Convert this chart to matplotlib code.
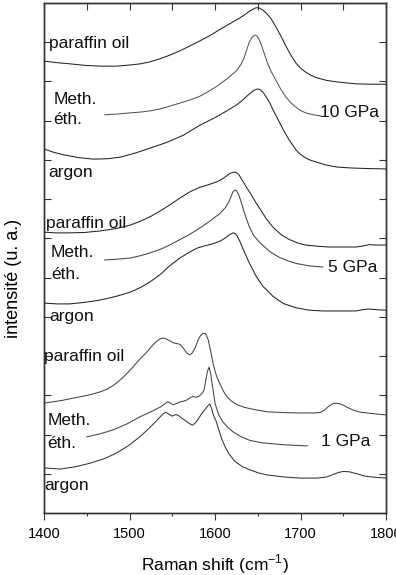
import numpy as np
import matplotlib.pyplot as plt

plt.rcParams['font.family'] = ['Liberation Sans', 'DejaVu Sans']

# Raman spectra, offset per pressure / medium (intensity in arbitrary units)
# 10 GPa
par10_x = [1400, 1415, 1430, 1448, 1466, 1484, 1501, 1513, 1524, 1536, 1547, 1559, 1570,
           1582, 1594, 1606, 1618, 1629, 1636, 1641, 1648, 1652, 1656, 1660, 1665, 1671,
           1677, 1683, 1689, 1695, 1700, 1706, 1712, 1718, 1730, 1742, 1755, 1765, 1780, 1800]
par10_y = [11.52, 11.48, 11.45, 11.41, 11.39, 11.39, 11.42, 11.45, 11.50, 11.58, 11.67, 11.78, 11.90,
           12.03, 12.17, 12.33, 12.48, 12.62, 12.72, 12.80, 12.88, 12.87, 12.82, 12.74, 12.62, 12.40,
           12.16, 11.90, 11.66, 11.46, 11.34, 11.24, 11.16, 11.10, 11.03, 10.99, 10.96, 10.94, 10.93, 10.93]
met10_x = [1471, 1486, 1501, 1513, 1524, 1536, 1547, 1559, 1571, 1582, 1592, 1601, 1613,
           1625, 1630, 1634, 1637, 1640, 1643, 1646, 1648, 1650, 1653, 1656, 1659, 1662,
           1666, 1671, 1677, 1683, 1689, 1695, 1700, 1706, 1715, 1724]
met10_y = [10.15, 10.17, 10.20, 10.22, 10.25, 10.30, 10.37, 10.45, 10.53, 10.62, 10.74, 10.86, 11.05,
           11.27, 11.42, 11.60, 11.80, 12.00, 12.12, 12.18, 12.18, 12.13, 12.00, 11.82, 11.62, 11.44,
           11.24, 11.04, 10.80, 10.60, 10.45, 10.34, 10.26, 10.20, 10.15, 10.12]
arg10_x = [1400, 1412, 1423, 1440, 1458, 1474, 1489, 1506, 1524, 1544, 1563, 1572, 1582,
           1592, 1601, 1613, 1625, 1631, 1636, 1641, 1646, 1650, 1653, 1656, 1660, 1664,
           1668, 1674, 1680, 1687, 1695, 1700, 1706, 1712, 1718, 1730, 1742, 1755, 1765, 1780, 1800]
arg10_y = [9.28, 9.19, 9.13, 9.06, 9.02, 9.03, 9.07, 9.17, 9.30, 9.45, 9.63, 9.75, 9.88,
           9.99, 10.09, 10.24, 10.40, 10.50, 10.60, 10.70, 10.78, 10.81, 10.79, 10.73, 10.60, 10.46,
           10.27, 10.02, 9.76, 9.50, 9.25, 9.14, 9.05, 8.99, 8.95, 8.87, 8.82, 8.80, 8.79, 8.78, 8.77]

# 5 GPa
par5_x = [1400, 1414, 1427, 1447, 1466, 1484, 1501, 1513, 1524, 1536, 1547, 1559, 1571,
          1582, 1594, 1603, 1609, 1614, 1618, 1622, 1625, 1628, 1632, 1636, 1641, 1647,
          1653, 1660, 1668, 1677, 1687, 1697, 1706, 1720, 1733, 1750, 1765, 1772, 1780, 1790, 1800]
par5_y = [7.16, 7.14, 7.14, 7.15, 7.19, 7.25, 7.34, 7.44, 7.55, 7.70, 7.85, 8.03, 8.19,
          8.30, 8.38, 8.45, 8.52, 8.60, 8.66, 8.69, 8.68, 8.62, 8.48, 8.33, 8.16, 7.94,
          7.74, 7.50, 7.28, 7.10, 6.97, 6.88, 6.83, 6.80, 6.78, 6.78, 6.78, 6.80, 6.84, 6.83, 6.83]
met5_x = [1471, 1486, 1501, 1513, 1524, 1536, 1547, 1559, 1571, 1582, 1594, 1606, 1612,
          1616, 1619, 1621, 1623, 1625, 1628, 1631, 1634, 1636, 1640, 1645, 1650, 1656,
          1665, 1675, 1685, 1695, 1710, 1726]
met5_y = [6.45, 6.47, 6.50, 6.56, 6.63, 6.72, 6.83, 6.97, 7.11, 7.26, 7.44, 7.64, 7.78,
          7.92, 8.08, 8.18, 8.23, 8.22, 8.10, 7.90, 7.68, 7.55, 7.30, 7.08, 6.95, 6.82,
          6.65, 6.52, 6.43, 6.36, 6.30, 6.27]
arg5_x = [1400, 1415, 1430, 1448, 1466, 1484, 1501, 1513, 1524, 1536, 1547, 1559, 1571,
          1580, 1588, 1597, 1606, 1612, 1616, 1620, 1622, 1625, 1629, 1633, 1640, 1648,
          1656, 1668, 1680, 1695, 1710, 1726, 1745, 1765, 1772, 1780, 1790, 1800]
arg5_y = [5.35, 5.33, 5.33, 5.37, 5.43, 5.52, 5.63, 5.75, 5.89, 6.08, 6.30, 6.50, 6.66,
          6.76, 6.81, 6.86, 6.93, 7.01, 7.08, 7.13, 7.14, 7.10, 6.93, 6.72, 6.38, 6.04,
          5.78, 5.52, 5.34, 5.23, 5.17, 5.15, 5.15, 5.15, 5.18, 5.20, 5.18, 5.17]

# 1 GPa
par1_x = [1400, 1421, 1442, 1455, 1466, 1474, 1481, 1487, 1492, 1498, 1504, 1512, 1521,
          1528, 1533, 1538, 1542, 1546, 1551, 1555, 1559, 1563, 1567, 1570, 1573, 1577,
          1580, 1583, 1586, 1589, 1592, 1595, 1598, 1602, 1606, 1610, 1614, 1620, 1627,
          1635, 1645, 1661, 1680, 1699, 1715, 1723, 1728, 1733, 1738, 1742, 1748, 1755,
          1762, 1770, 1778, 1790, 1800]
par1_y = [2.80, 2.87, 2.96, 3.02, 3.09, 3.16, 3.25, 3.35, 3.45, 3.58, 3.72, 3.92, 4.12,
          4.30, 4.40, 4.46, 4.45, 4.40, 4.34, 4.32, 4.30, 4.20, 4.08, 4.03, 4.07, 4.22,
          4.40, 4.52, 4.58, 4.57, 4.42, 4.12, 3.78, 3.48, 3.28, 3.10, 2.96, 2.84, 2.75,
          2.69, 2.64, 2.58, 2.56, 2.55, 2.55, 2.56, 2.62, 2.72, 2.79, 2.80, 2.77, 2.69,
          2.62, 2.57, 2.55, 2.52, 2.50]
met1_x = [1450, 1466, 1481, 1497, 1512, 1525, 1536, 1541, 1545, 1548, 1551, 1555, 1559,
          1563, 1567, 1571, 1574, 1578, 1581, 1584, 1587, 1589, 1591, 1593, 1595, 1597,
          1600, 1604, 1609, 1615, 1621, 1630, 1641, 1655, 1680, 1708]
met1_y = [1.94, 2.02, 2.12, 2.27, 2.45, 2.58, 2.70, 2.78, 2.84, 2.80, 2.76, 2.79, 2.83,
          2.85, 2.88, 2.94, 2.97, 2.95, 2.97, 3.03, 3.12, 3.35, 3.60, 3.72, 3.55, 3.25,
          2.80, 2.52, 2.33, 2.18, 2.07, 1.95, 1.85, 1.79, 1.74, 1.71]
arg1_x = [1400, 1419, 1437, 1454, 1470, 1485, 1499, 1512, 1522, 1532, 1538, 1542, 1546,
          1550, 1554, 1557, 1561, 1565, 1570, 1574, 1577, 1580, 1584, 1588, 1592, 1594,
          1596, 1598, 1601, 1604, 1608, 1612, 1616, 1623, 1632, 1641, 1651, 1661, 1680,
          1699, 1720, 1731, 1738, 1744, 1750, 1757, 1766, 1775, 1787, 1800]
arg1_y = [1.15, 1.12, 1.18, 1.27, 1.38, 1.53, 1.72, 1.94, 2.14, 2.36, 2.50, 2.57, 2.52,
          2.47, 2.51, 2.49, 2.42, 2.36, 2.28, 2.24, 2.30, 2.38, 2.52, 2.63, 2.74, 2.78,
          2.66, 2.50, 2.36, 2.15, 1.88, 1.68, 1.52, 1.32, 1.18, 1.10, 1.02, 0.97, 0.92,
          0.89, 0.89, 0.92, 0.98, 1.03, 1.06, 1.05, 1.00, 0.94, 0.91, 0.89]

# labels next to the spectra: (text, x, y)
medium_labels = [
    ("paraffin oil", 1406, 11.98), ("Meth.", 1411, 10.55), ("éth.", 1411, 10.02), ("argon", 1405, 8.67),
    ("paraffin oil", 1402, 7.39), ("Meth.", 1408, 6.65), ("éth.", 1409, 6.07), ("argon", 1406, 5.00),
    ("paraffin oil", 1400, 4.00), ("Meth.", 1404, 2.35), ("éth.", 1404, 1.78), ("argon", 1400, 0.71),
]
pressure_labels = [("10 GPa", 1723, 10.20), ("5 GPa", 1732, 6.27), ("1 GPa", 1724, 1.81)]

fig = plt.figure(figsize=(3.96, 5.75), dpi=100)
ax = fig.add_axes([44 / 396, 62 / 575, 342 / 396, 510 / 575])

spectra = [
    (par10_x, par10_y, '#222222'), (met10_x, met10_y, '#555555'), (arg10_x, arg10_y, '#222222'),
    (par5_x, par5_y, '#222222'), (met5_x, met5_y, '#444444'), (arg5_x, arg5_y, '#222222'),
    (par1_x, par1_y, '#444444'), (met1_x, met1_y, '#444444'), (arg1_x, arg1_y, '#333333'),
]
for xs, ys, c in spectra:
    ax.plot(xs, ys, color=c, lw=0.75)

for txt, x, y in medium_labels:
    ax.text(x, y, txt, fontsize=12.5, ha='left', va='center', color='#111111')
for txt, x, y in pressure_labels:
    ax.text(x, y, txt, fontsize=12.5, ha='left', va='center', color='#111111')

ax.set_xlim(1400, 1800)
ax.set_ylim(0, 13)
ax.set_xticks(np.arange(1400, 1801, 100))
ax.set_xticks(np.arange(1450, 1800, 100), minor=True)
ax.set_yticks(np.arange(1, 13))
ax.tick_params(axis='x', which='major', direction='out', length=5, width=0.8,
               labelsize=10.5, pad=5, color='#333333')
ax.tick_params(axis='x', which='minor', direction='out', length=2.5, width=0.8, color='#333333')
ax.tick_params(axis='y', direction='in', length=5, width=0.8, left=True, right=True,
               labelleft=False, color='#333333')

# top axis: inward ticks every 50, no labels
top = ax.twiny()
top.set_xlim(1400, 1800)
top.set_xticks(np.arange(1400, 1801, 50))
top.tick_params(axis='x', direction='in', length=5, width=0.8, labeltop=False, color='#333333')

for a in (ax, top):
    for s in a.spines.values():
        s.set_color('#333333')
        s.set_linewidth(1.0)

ax.set_xlabel('Raman shift (cm$^{\\mathregular{-1}}$)', fontsize=12.5, labelpad=8)
ax.set_ylabel('intensité (u. a.)', fontsize=13)
ax.yaxis.set_label_coords(-0.064, 0.46)

fig.savefig('out.png', dpi=100)
